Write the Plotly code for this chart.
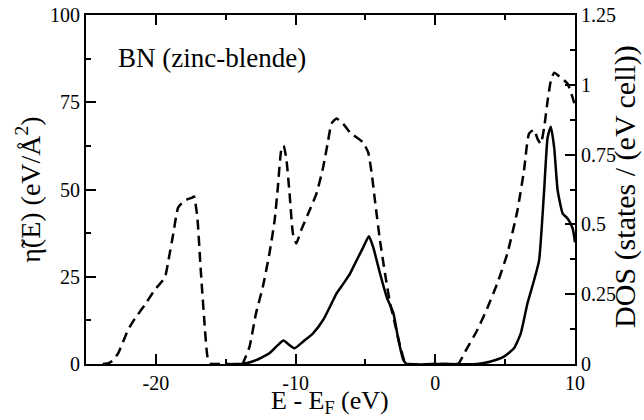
import plotly.graph_objects as go

# DOS (dashed, right axis)
dos_E = [-23.8, -23.4, -23.1, -22.7, -22.0, -21.5, -20.8, -20.1, -19.35, -19.1, -18.75, -18.4,
         -17.9, -17.4, -17.27, -17.03, -16.8, -16.55, -16.3, -16.07, -15.0, -13.8, -13.67, -13.3,
         -12.83, -12.35, -11.87, -11.5, -11.27, -11.03, -10.86, -10.67, -10.43, -10.19, -9.95,
         -9.6, -9.0, -8.5, -8.03, -7.67, -7.43, -7.07, -6.6, -6.1, -5.16, -4.8, -4.55, -4.32,
         -3.96, -3.6, -3.24, -3.0, -2.5, -2.16, -2.0, 0.0, 1.6, 1.68, 2.28, 3.0, 3.72, 4.44,
         5.16, 5.88, 6.35, 6.71, 7.07, 7.31, 7.55, 7.79, 8.04, 8.27, 8.51, 8.99, 9.47, 9.83, 10.0]
dos_V = [0.0, 0.003, 0.012, 0.038, 0.121, 0.163, 0.211, 0.264, 0.311, 0.371, 0.467, 0.561,
         0.586, 0.596, 0.600, 0.525, 0.346, 0.168, 0.025, 0.002, 0.0, 0.0, 0.014, 0.061,
         0.182, 0.275, 0.396, 0.514, 0.632, 0.764, 0.782, 0.739, 0.611, 0.468, 0.432,
         0.479, 0.550, 0.611, 0.704, 0.800, 0.861, 0.879, 0.861, 0.829, 0.793, 0.757, 0.682, 0.586,
         0.443, 0.325, 0.218, 0.168, 0.061, 0.004, 0.0, 0.0, 0.0, 0.002, 0.057, 0.121, 0.200, 0.289,
         0.396, 0.550, 0.693, 0.825, 0.839, 0.807, 0.789, 0.846, 0.943, 1.014, 1.043, 1.025, 1.004, 0.954, 0.925]

# eta-tilde (solid, left axis)
eta_E = [-14.5, -13.8, -12.83, -11.87, -11.27, -10.86, -10.43, -10.07, -9.47, -8.75, -8.03,
         -7.43, -7.07, -6.6, -6.1, -5.88, -5.16, -4.75, -4.44, -3.96, -3.47, -3.0, -2.64,
         -2.28, -2.04, 0.0, 3.0, 3.96, 4.91, 5.63, 6.12, 6.6, 7.07, 7.43, 7.79, 8.04, 8.27,
         8.51, 8.76, 9.12, 9.47, 9.83, 10.0]
eta_V = [0.0, 0.0, 1.1, 3.1, 5.4, 6.7, 5.4, 4.5, 6.4, 8.8, 12.6,
         17.3, 20.2, 22.9, 25.9, 27.7, 33.4, 36.6, 33.4, 26.0, 19.1, 14.6, 6.9,
         1.1, 0.0, 0.0, 0.0, 0.7, 2.1, 4.5, 8.8, 17.4, 24.0, 29.7, 49.7, 64.9, 68.0,
         62.0, 49.7, 43.1, 41.7, 38.9, 34.9]

x_ticks = [-20, -10, 0, 10]
x_labels = ["-20", "-10", "0", "10"]
y_ticks = [0, 25, 50, 75, 100]
y_labels = ["0", "25", "50", "75", "100"]
y2_ticks = [0, 0.25, 0.5, 0.75, 1, 1.25]
y2_labels = ["0", "0.25", "0.5", "0.75", "1", "1.25"]

FONT = "Liberation Serif, Times New Roman, Times, serif"

fig = go.Figure()
fig.add_trace(go.Scatter(x=dos_E, y=dos_V, yaxis="y2", mode="lines",
                         line=dict(color="black", width=2.5, dash="10px,6px", shape="spline", smoothing=0.5)))
fig.add_trace(go.Scatter(x=eta_E, y=eta_V, mode="lines",
                         line=dict(color="black", width=2.5, shape="spline", smoothing=0.5)))

axis_common = dict(showgrid=False, zeroline=False, showline=True, linecolor="black", linewidth=2,
                   ticks="inside", ticklen=10, tickwidth=1.5, tickcolor="black", automargin=False,
                   tickfont=dict(family=FONT, size=20, color="black"))

fig.update_layout(
    width=644, height=420,
    margin=dict(l=86, r=69, t=15, b=56),
    font=dict(family=FONT, color="black"),
    plot_bgcolor="white", paper_bgcolor="white",
    showlegend=False,
    xaxis=dict(range=[-25, 10], tickvals=x_ticks, ticktext=x_labels, mirror="ticks",
               minor=dict(tickvals=[-15, -5, 5], ticks="inside", ticklen=5, tickcolor="black", tickwidth=1.5),
               **axis_common),
    yaxis=dict(range=[0, 100], tickvals=y_ticks, ticktext=y_labels,
               minor=dict(dtick=12.5, ticks="inside", ticklen=5, tickcolor="black", tickwidth=1.5),
               **axis_common),
    yaxis2=dict(range=[0, 1.25], tickvals=y2_ticks, ticktext=y2_labels, overlaying="y", side="right",
                minor=dict(dtick=0.125, ticks="inside", ticklen=5, tickcolor="black", tickwidth=1.5),
                **axis_common),
    annotations=[
        dict(text="BN (zinc-blende)", xref="paper", yref="paper", x=0.258, y=0.877,
             xanchor="center", yanchor="middle",
             showarrow=False, font=dict(family=FONT, size=27, color="black")),
        dict(text="E - E<sub>F</sub> (eV)", xref="paper", yref="paper", x=0.498, y=-0.108,
             xanchor="center", yanchor="middle",
             showarrow=False, font=dict(family=FONT, size=26, color="black")),
        dict(text="\u03b7\u0303(E) (eV/\u00c5<sup>2</sup>)", xref="paper", yref="paper", x=-0.118, y=0.5,
             xanchor="center", yanchor="middle",
             textangle=-90, showarrow=False, font=dict(family=FONT, size=28, color="black")),
        dict(text="DOS (states / (eV cell))", xref="paper", yref="paper", x=1.102, y=0.51,
             xanchor="center", yanchor="middle",
             textangle=-90, showarrow=False, font=dict(family=FONT, size=30, color="black")),
    ],
)

fig.write_html("out.html", config={"displayModeBar": False},
               post_script="document.body.style.margin='0';")
